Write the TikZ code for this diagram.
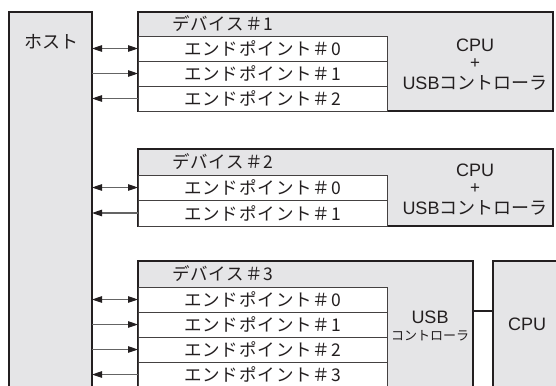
\documentclass[tikz,border=0pt]{standalone}
\usepackage{fontspec}
\setmainfont{Liberation Sans}
\newfontfamily\jp[LetterSpace=5]{Noto Sans CJK JP}
\newfontfamily\jpn{Noto Sans CJK JP}
\usetikzlibrary{arrows.meta}
\definecolor{boxfill}{RGB}{229,229,231}
\definecolor{ink}{RGB}{35,31,32}
\definecolor{wirec}{RGB}{100,100,100}
\tikzset{
  box/.style={draw=ink, line width=1.8bp, fill=boxfill, inner sep=0pt, outer sep=0pt, anchor=north west},
  eprow/.style={draw=ink!85, line width=0.9bp, fill=white, minimum width=249bp, minimum height=25bp,
    anchor=north west, inner sep=0pt, outer sep=0pt, text=ink, font=\jp\fontsize{17.5bp}{18bp}\selectfont},
  hdr/.style={anchor=west, inner sep=0pt, text=ink, font=\jp\fontsize{17.5bp}{18bp}\selectfont},
  lbl/.style={inner sep=0pt, text=ink, font=\fontsize{18bp}{19bp}\selectfont},
  plus/.style={inner sep=0pt, text=ink, font=\fontsize{17bp}{17bp}\selectfont},
  wire/.style={draw=wirec, line width=1.1bp},
  tipr/.style={-{Triangle[length=10bp,width=6.5bp,color=ink]}},
  tipl/.style={{Triangle[length=10bp,width=6.5bp,color=ink]}-},
  tipb/.style={{Triangle[length=10bp,width=6.5bp,color=ink]}-{Triangle[length=10bp,width=6.5bp,color=ink]}},
}
\begin{document}
\begin{tikzpicture}[x=1bp,y=-1bp]
\useasboundingbox (0,0) rectangle (556,385);
\clip (0,0) rectangle (556,385);
% host
\node[box, minimum width=83bp, minimum height=390bp] (host) at (9,12) {};
\node[inner sep=0pt, text=ink, font=\jpn\fontsize{18bp}{18bp}\selectfont] (hostlbl) at (51,42) {ホスト};
% device 1
\node[box, minimum width=415bp, minimum height=99bp] (dev1) at (138,12) {};
\node[hdr] (dev1h) at (172,24) {デバイス＃1};
\node[eprow] (e10) at (138,36) {エンドポイント＃0};
\node[eprow] (e11) at (138,61) {エンドポイント＃1};
\node[eprow] (e12) at (138,86) {エンドポイント＃2};
\node[lbl] (cpu1a) at (475,45) {CPU};
\node[plus] (cpu1b) at (475,64) {+};
\node[lbl] (cpu1c) at (475,83) {USB{\jpn コントローラ}};
% device 2
\node[box, minimum width=415bp, minimum height=77bp] (dev2) at (138,149) {};
\node[hdr] (dev2h) at (172,162) {デバイス＃2};
\node[eprow] (e20) at (138,175) {エンドポイント＃0};
\node[eprow, minimum height=26bp] (e21) at (138,200) {エンドポイント＃1};
\node[lbl] (cpu2a) at (475,170) {CPU};
\node[plus] (cpu2b) at (475,189) {+};
\node[lbl] (cpu2c) at (475,208) {USB{\jpn コントローラ}};
% device 3
\node[box, minimum width=335bp, minimum height=140bp] (dev3) at (138,261) {};
\node[hdr] (dev3h) at (172,274) {デバイス＃3};
\node[eprow] (e30) at (138,287) {エンドポイント＃0};
\node[eprow] (e31) at (138,312) {エンドポイント＃1};
\node[eprow] (e32) at (138,337) {エンドポイント＃2};
\node[eprow] (e33) at (138,362) {エンドポイント＃3};
\node[lbl] (usb3) at (430,317) {USB};
\node[inner sep=0pt, text=ink, font=\jpn\fontsize{13bp}{15bp}\selectfont] (ctl3) at (430,336) {コントローラ};
\node[box, minimum width=90bp, minimum height=140bp] (cpu3) at (493,261) {};
\node[lbl] (cpu3l) at (527,324) {CPU};
\draw[ink, line width=1.8bp] (dev3.east |- 0,311) -- (cpu3.west |- 0,311);
% arrows
\draw[wire, tipb] (host.east |- e10.west) -- (e10.west);
\draw[wire, tipr] (host.east |- e11.west) -- (e11.west);
\draw[wire, tipl] (host.east |- e12.west) -- (e12.west);
\draw[wire, tipb] (host.east |- e20.west) -- (e20.west);
\draw[wire, tipl] (host.east |- e21.west) -- (e21.west);
\draw[wire, tipb] (host.east |- e30.west) -- (e30.west);
\draw[wire, tipr] (host.east |- e31.west) -- (e31.west);
\draw[wire, tipr] (host.east |- e32.west) -- (e32.west);
\draw[wire, tipl] (host.east |- e33.west) -- (e33.west);
\end{tikzpicture}
\end{document}
